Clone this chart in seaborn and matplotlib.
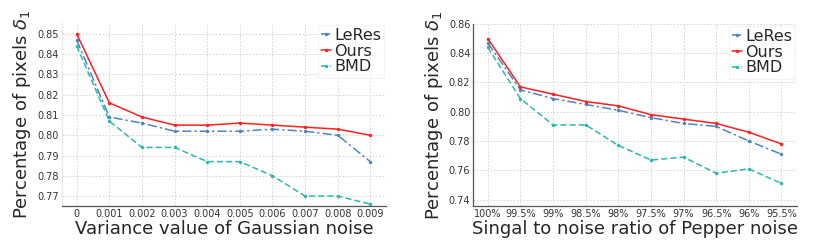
import numpy as np
import pandas as pd
import seaborn as sns
import matplotlib.pyplot as plt

#################
## data
#################
gauss_ticks = ["0", "0.001", "0.002", "0.003", "0.004", "0.005", "0.006", "0.007", "0.008", "0.009"]
gauss_leres = [0.847, 0.809, 0.806, 0.802, 0.802, 0.802, 0.803, 0.802, 0.800, 0.787]
gauss_ours = [0.850, 0.816, 0.809, 0.805, 0.805, 0.806, 0.805, 0.804, 0.803, 0.800]
gauss_bmd = [0.844, 0.807, 0.794, 0.794, 0.787, 0.787, 0.780, 0.770, 0.770, 0.766]

pepper_ticks = ["100%", "99.5%", "99%", "98.5%", "98%", "97.5%", "97%", "96.5%", "96%", "95.5%"]
pepper_leres = [0.847, 0.815, 0.809, 0.805, 0.801, 0.796, 0.792, 0.790, 0.780, 0.771]
pepper_ours = [0.850, 0.817, 0.812, 0.807, 0.804, 0.798, 0.795, 0.792, 0.786, 0.778]
pepper_bmd = [0.844, 0.809, 0.791, 0.791, 0.777, 0.767, 0.769, 0.758, 0.761, 0.751]

methods = ["LeRes", "Ours", "BMD"]
palette = {"LeRes": "#4a86c0", "Ours": "#ff2020", "BMD": "#2ab8b0"}
dashes = {"LeRes": (6, 2, 1.5, 2), "Ours": "", "BMD": (4, 2)}


def to_long(leres, ours, bmd):
    rows = []
    for name, vals in zip(methods, [leres, ours, bmd]):
        for i, v in enumerate(vals):
            rows.append({"pos": i, "val": v, "method": name})
    return pd.DataFrame(rows)


sns.set_style("whitegrid", {"grid.linestyle": (0, (2, 2)), "grid.color": "#d0d0d0"})
plt.rcParams['font.family'] = ['DejaVu Sans']

fig = plt.figure(figsize=(8.3, 2.46), dpi=100)
ax1 = fig.add_axes([0.0747, 0.1626, 0.390, 0.744])
ax2 = fig.add_axes([0.570, 0.1626, 0.390, 0.740])

panels = [
    (ax1, to_long(gauss_leres, gauss_ours, gauss_bmd), gauss_ticks,
     "Variance value of Gaussian noise", (0.7651, 0.8554), [0.77, 0.78, 0.79, 0.80, 0.81, 0.82, 0.83, 0.84, 0.85]),
    (ax2, to_long(pepper_leres, pepper_ours, pepper_bmd), pepper_ticks,
     "Singal to noise ratio of Pepper noise", (0.7356, 0.8600), [0.74, 0.76, 0.78, 0.80, 0.82, 0.84, 0.86]),
]

for ax, df, ticks, xlabel, ylim, yticks in panels:
    sns.lineplot(data=df, x="pos", y="val", hue="method", style="method",
                 hue_order=methods, style_order=methods, palette=palette,
                 dashes=dashes, markers={"LeRes": "o", "Ours": "o", "BMD": "o"},
                 markersize=2.5, markeredgewidth=0, linewidth=1.1, ax=ax)
    ax.set_xlim(-0.45, 9.47)
    ax.set_ylim(*ylim)
    ax.set_xticks(range(len(ticks)))
    ax.set_xticklabels(ticks)
    ax.set_yticks(yticks)
    ax.set_yticklabels(["%.2f" % t for t in yticks])
    ax.tick_params(axis="both", labelsize=7, pad=2, length=0, labelcolor="#333333")
    ax.grid(linewidth=0.6)
    ax.set_xlabel(xlabel, fontsize=13, labelpad=1)
    ax.set_ylabel(r"Percentage of pixels $\delta_1$", fontsize=13, labelpad=3)
    for s in ["top", "right"]:
        ax.spines[s].set_visible(False)
    ax.spines["bottom"].set_color("#555555")
    ax.spines["bottom"].set_linewidth(0.9)
    leg = ax.legend(loc="upper right", fontsize=11.5, handlelength=0.6, handletextpad=0.2,
                    borderpad=0.2, labelspacing=0.05, frameon=True, fancybox=False,
                    borderaxespad=0.1)
    leg.get_frame().set_edgecolor("#eeeeee")
    leg.get_frame().set_linewidth(0.6)

ax1.spines["left"].set_color("#e6e6e6")
ax2.spines["left"].set_color("#555555")
ax2.spines["left"].set_linewidth(0.9)

plt.savefig("out.png", dpi=100)
